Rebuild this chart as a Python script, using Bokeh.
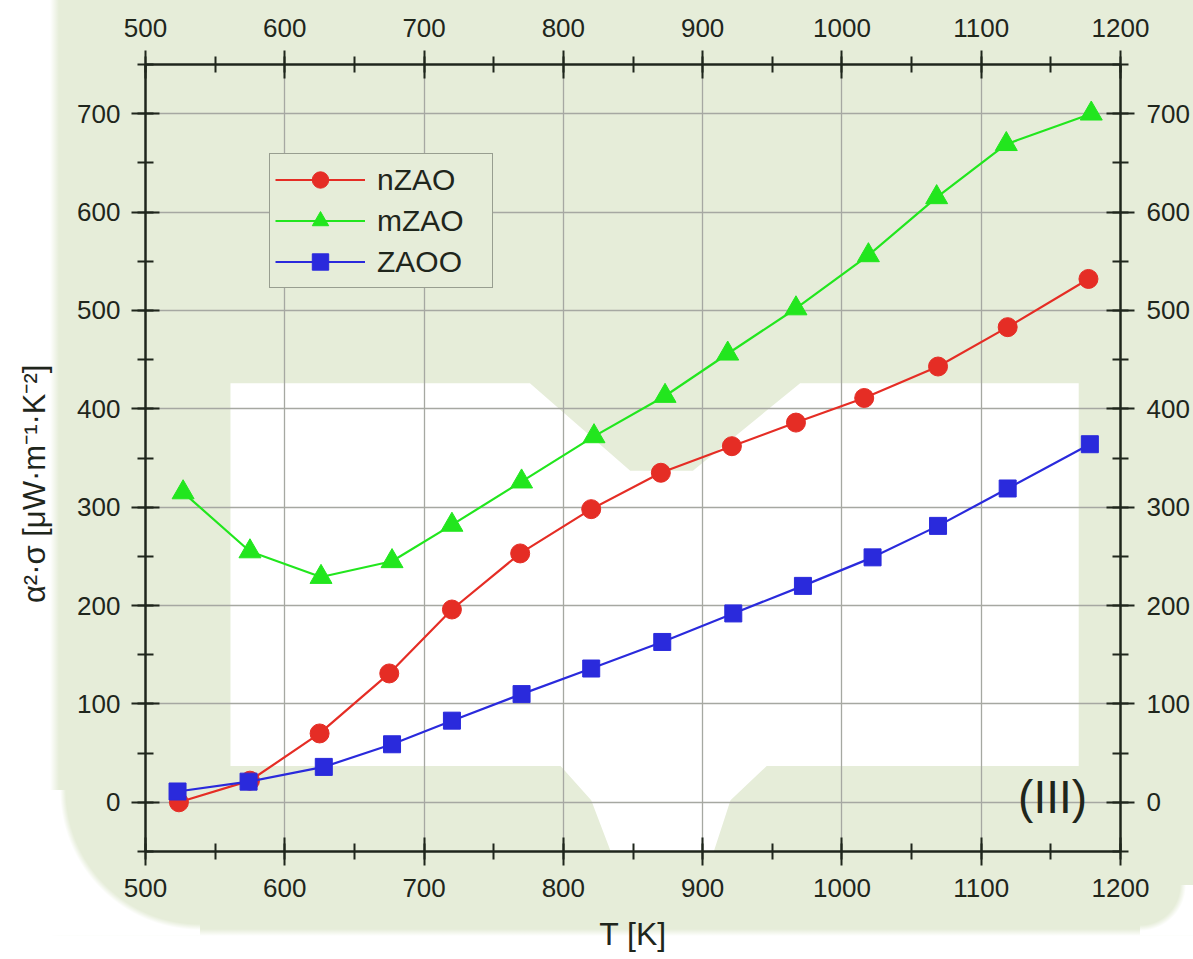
from bokeh.plotting import figure
from bokeh.models import (Range1d, LinearAxis, SingleIntervalTicker, Label, Legend)
from bokeh.embed import file_html
from bokeh.resources import INLINE

# ---------------- data ----------------
t_nzao = [524, 575, 625, 675, 720, 769, 820, 870, 921, 967, 1016, 1069, 1119, 1177]
v_nzao = [0, 22, 70, 131, 196, 253, 298, 335, 362, 386, 411, 443, 483, 532]

t_mzao = [527, 575, 626, 677, 720, 770, 822, 873, 918, 967, 1019, 1068, 1118, 1179]
v_mzao = [315, 255, 229, 245, 282, 326, 372, 413, 456, 502, 556, 615, 669, 700]

t_zaoo = [523, 574, 628, 677, 720, 770, 820, 871, 922, 972, 1022, 1069, 1119, 1178]
v_zaoo = [11, 21, 36, 59, 83, 110, 136, 163, 192, 220, 249, 281, 319, 364]

x_label = "T [K]"
y_label = "\u03b1\u00b2\u00b7\u03c3 [\u03bcW\u00b7m\u207b\u00b9\u00b7K\u207b\u00b2]"
panel_tag = "(III)"

# decorative white watermark region (background)
bg_x = [561, 776, 848, 893, 970, 1170, 1170, 946, 920, 908, 834, 820, 798, 561]
bg_y = [426, 426, 337, 337, 426, 426, 37, 37, 2, -50, -50, 2, 37, 37]

GREEN_BG = "#E6EDD9"
INK = "#1F261C"
FONT = "Liberation Sans"

p = figure(
    width=1193, height=959,
    x_range=Range1d(500, 1200), y_range=Range1d(-50, 750),
    output_backend="svg", toolbar_location=None,
    x_axis_location=None, y_axis_location=None,
    background_fill_color=GREEN_BG,
    border_fill_color=None,
    min_border_left=145, min_border_right=73,
    min_border_top=64, min_border_bottom=108,
    styles={
        "background": (
            "radial-gradient(circle 137px at 150px 0px, rgba(255,255,255,0) 134px, #ffffff 140px) "
            "50px 790px / 150px 145px no-repeat, "
            "radial-gradient(circle 43px at 0px 0px, rgba(255,255,255,0) 40px, #ffffff 46px) "
            "1140px 885px / 53px 50px no-repeat, "
            "linear-gradient(180deg, rgba(255,255,255,0) 0px, rgba(255,255,255,0) 929px, #ffffff 936px), "
            "linear-gradient(90deg, #ffffff 0px, #ffffff 50px, " + GREEN_BG + " 59px)"
        )
    },
)
p.outline_line_color = None

# background white region under the grid
bg = p.patch(bg_x, bg_y, fill_color="#FFFFFF", line_color=None)
bg.level = "image"


def style_axis(ax):
    ax.ticker = SingleIntervalTicker(interval=100, num_minor_ticks=2)
    ax.axis_line_width = 2.5
    ax.axis_line_color = INK
    ax.major_tick_line_color = INK
    ax.minor_tick_line_color = INK
    ax.major_tick_line_width = 2
    ax.minor_tick_line_width = 2
    ax.major_tick_in = 14
    ax.major_tick_out = 14
    ax.minor_tick_in = 8
    ax.minor_tick_out = 8
    ax.major_label_text_font = FONT
    ax.major_label_text_font_size = "26px"
    ax.major_label_text_color = INK
    ax.axis_label_text_font = FONT
    ax.axis_label_text_font_style = "normal"
    ax.axis_label_text_color = INK


xb = LinearAxis(axis_label=x_label)
style_axis(xb)
xb.major_label_standoff = 13
xb.axis_label_text_font_size = "32px"
xb.axis_label_standoff = 16
p.add_layout(xb, "below")

xt = LinearAxis()
style_axis(xt)
xt.major_label_standoff = 14
p.add_layout(xt, "above")

# trailing no-break spaces nudge the centred title a little below the frame centre
yl = LinearAxis(axis_label=y_label + "\u00a0" * 6)
style_axis(yl)
yl.major_label_standoff = 11
yl.axis_label_text_font_size = "31px"
yl.axis_label_standoff = 22
p.add_layout(yl, "left")

yr = LinearAxis()
style_axis(yr)
yr.major_label_standoff = 12
p.add_layout(yr, "right")

grid_ticker = SingleIntervalTicker(interval=100)
p.xgrid.ticker = grid_ticker
p.ygrid.ticker = grid_ticker
for g in (p.xgrid, p.ygrid):
    g.grid_line_color = "#A6A8A2"
    g.grid_line_width = 1.3

# series
RED = "#E52D25"
GRN = "#22E61E"
BLU = "#2A2ADC"

r1l = p.line(t_nzao, v_nzao, line_color=RED, line_width=2.2)
r1m = p.scatter(t_nzao, v_nzao, marker="circle", size=19, fill_color=RED, line_color=RED)
r2l = p.line(t_mzao, v_mzao, line_color=GRN, line_width=2.2)
r2m = p.scatter(t_mzao, v_mzao, marker="triangle", size=22, fill_color=GRN, line_color=GRN)
r3l = p.line(t_zaoo, v_zaoo, line_color=BLU, line_width=2.2)
r3m = p.scatter(t_zaoo, v_zaoo, marker="square", size=17, fill_color=BLU, line_color=BLU)

legend = Legend(items=[("nZAO", [r1l, r1m]), ("mZAO", [r2l, r2m]), ("ZAOO", [r3l, r3m])])
legend.location = (124, 563)
legend.glyph_width = 90
legend.glyph_height = 41
legend.label_height = 41
legend.label_width = 110
legend.spacing = 0
legend.padding = 5
legend.margin = 0
legend.label_standoff = 12
legend.label_text_font = FONT
legend.label_text_font_size = "30px"
legend.label_text_color = INK
legend.border_line_color = "#4A4F48"
legend.border_line_width = 1.5
legend.background_fill_color = GREEN_BG
legend.background_fill_alpha = 1.0
p.add_layout(legend, "center")

tag = Label(x=1176, y=5, text=panel_tag, text_align="right", text_baseline="middle",
            text_font=FONT, text_font_size="46px", text_color=INK)
p.add_layout(tag)

open("out.html", "w").write(file_html(p, INLINE))
